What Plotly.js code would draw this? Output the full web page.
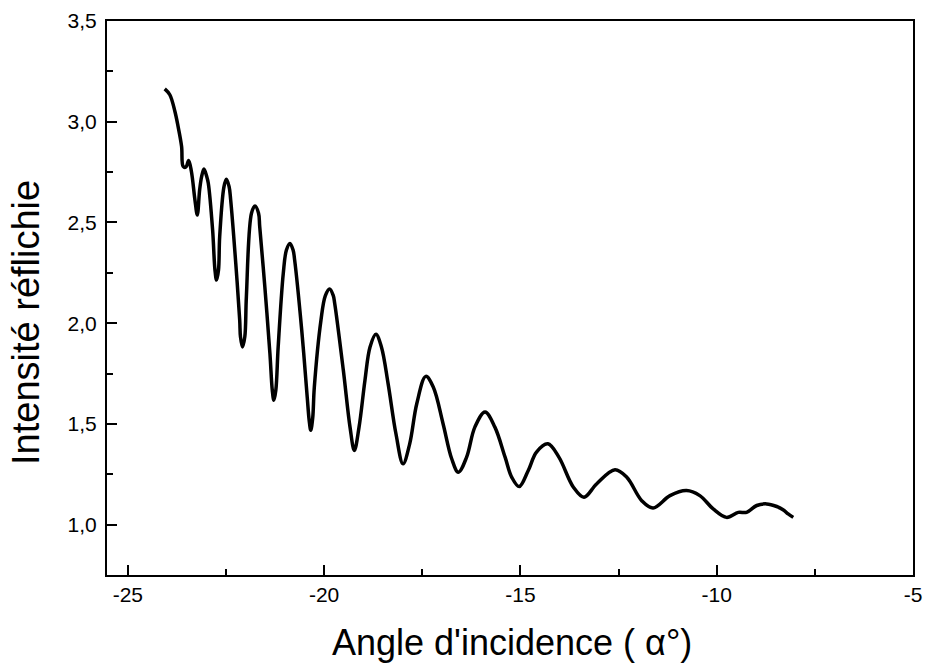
<!DOCTYPE html>
<html>
<head>
<meta charset="utf-8">
<script src="https://cdn.plot.ly/plotly-3.0.1.min.js"></script>
<style>html,body{margin:0;padding:0;background:#fff;}#chart{width:927px;height:665px;}</style>
</head>
<body>
<div id="chart"></div>
<script>
// Angle d'incidence (degrees)
var angle = [-24.06,-23.93,-23.80,-23.72,-23.63,-23.59,-23.52,-23.45,-23.38,-23.29,-23.23,-23.17,-23.12,-23.06,-22.99,-22.95,-22.84,-22.78,-22.74,-22.69,-22.66,-22.55,-22.49,-22.42,-22.38,-22.25,-22.15,-22.13,-22.08,-22.02,-21.98,-21.85,-21.76,-21.67,-21.64,-21.51,-21.38,-21.32,-21.28,-21.23,-21.17,-21.04,-20.96,-20.87,-20.79,-20.75,-20.57,-20.43,-20.38,-20.34,-20.29,-20.25,-20.08,-19.97,-19.86,-19.77,-19.73,-19.51,-19.34,-19.23,-19.11,-18.96,-18.83,-18.68,-18.54,-18.37,-18.17,-17.99,-17.82,-17.64,-17.41,-17.22,-16.97,-16.75,-16.58,-16.37,-16.16,-15.90,-15.65,-15.39,-15.22,-15.03,-14.80,-14.59,-14.30,-14.02,-13.65,-13.38,-13.06,-12.59,-12.29,-11.91,-11.62,-11.19,-10.77,-10.43,-10.09,-9.75,-9.45,-9.24,-8.98,-8.73,-8.47,-8.30,-8.18,-8.05];
// Intensité réfléchie
var intensity = [3.163,3.134,3.051,2.977,2.877,2.778,2.775,2.808,2.753,2.612,2.537,2.662,2.728,2.765,2.728,2.695,2.463,2.264,2.214,2.264,2.429,2.678,2.715,2.678,2.612,2.297,2.015,1.932,1.882,1.932,2.131,2.546,2.582,2.546,2.479,2.181,1.849,1.667,1.617,1.667,1.882,2.247,2.363,2.396,2.363,2.313,1.965,1.633,1.517,1.468,1.530,1.680,2.015,2.136,2.170,2.139,2.098,1.766,1.484,1.368,1.484,1.716,1.882,1.945,1.882,1.700,1.451,1.302,1.401,1.600,1.736,1.683,1.501,1.327,1.260,1.335,1.484,1.559,1.484,1.335,1.235,1.189,1.269,1.360,1.401,1.335,1.186,1.136,1.202,1.272,1.235,1.119,1.083,1.144,1.169,1.144,1.078,1.036,1.061,1.061,1.095,1.103,1.090,1.073,1.053,1.036];
var xTickVals = [-25,-20,-15,-10,-5];
var xTickText = ['-25','-20','-15','-10','-5'];
var yTickVals = [1.0,1.5,2.0,2.5,3.0,3.5];

var trace = {
  x: angle, y: intensity, type: 'scatter', mode: 'lines',
  line: {color: '#000', width: 3.5, shape: 'spline', smoothing: 1},
  hoverinfo: 'x+y'
};
var font = 'Liberation Sans, Arial, sans-serif';
var layout = {
  width: 927, height: 665,
  margin: {l: 107, r: 14, t: 21, b: 90},
  paper_bgcolor: '#fff', plot_bgcolor: '#fff',
  separators: ', ',
  showlegend: false,
  font: {family: font, color: '#000'},
  xaxis: {
    range: [-25.53, -5], tickmode: 'array', tickvals: xTickVals, ticktext: xTickText,
    ticks: 'inside', ticklen: 10, tickwidth: 2, tickcolor: '#000',
    minor: {dtick: 2.5, tick0: -25, ticks: 'inside', ticklen: 6, tickwidth: 2, tickcolor: '#000'},
    showline: true, linewidth: 2, linecolor: '#000', mirror: true,
    showgrid: false, zeroline: false,
    tickfont: {size: 21, family: font, color: '#000'}
  },
  yaxis: {
    range: [0.75, 3.5], tickmode: 'array', tickvals: yTickVals, tickformat: '.1f',
    ticks: 'inside', ticklen: 10, tickwidth: 2, tickcolor: '#000',
    minor: {dtick: 0.5, tick0: 0.75, ticks: 'inside', ticklen: 6, tickwidth: 2, tickcolor: '#000'},
    showline: true, linewidth: 2, linecolor: '#000', mirror: true,
    showgrid: false, zeroline: false, ticklabelstandoff: 4,
    tickfont: {size: 21, family: font, color: '#000'}
  },
  annotations: [
    {text: "Angle d'incidence ( α°)", xref: 'paper', yref: 'paper', x: 0.5025, y: -0.121,
     xanchor: 'center', yanchor: 'middle', showarrow: false,
     font: {size: 36, family: font, color: '#000'}},
    {text: 'Intensité réflichie', xref: 'paper', yref: 'paper', x: -0.1005, y: 0.4567,
     xanchor: 'center', yanchor: 'middle', showarrow: false, textangle: -90,
     font: {size: 38, family: font, color: '#000'}}
  ]
};
Plotly.newPlot('chart', [trace], layout, {displayModeBar: false, staticPlot: true});
</script>
</body>
</html>
